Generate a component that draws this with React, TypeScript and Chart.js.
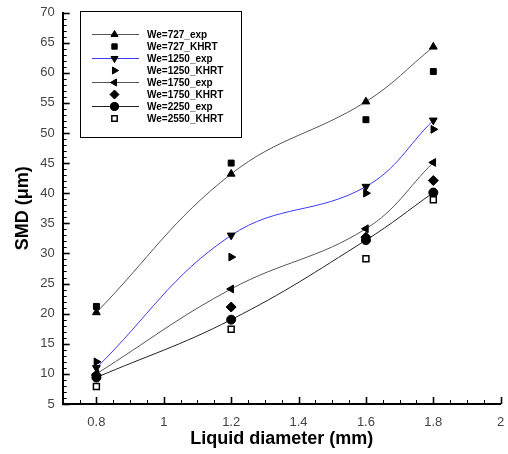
import React, { useEffect, useRef } from 'react';
import { Chart, registerables } from 'chart.js';

Chart.register(...registerables);

// ---- data ----
const DIAMETERS = [0.8, 1.2, 1.6, 1.8];
const WE727_EXP = [20.2, 43.2, 55.2, 64.3];
const WE727_KHRT = [21.2, 45, 52.2, 60.2];
const WE1250_EXP = [11, 33, 41.1, 52.1];
const WE1250_KHRT = [12, 29.4, 40, 50.6];
const WE1750_EXP = [10, 24.1, 34.1, 45.1];
const WE1750_KHRT = [9.8, 21.1, 32.7, 42.1];
const WE2250_EXP = [9.4, 19, 32.2, 40.1];
const WE2550_KHRT = [7.9, 17.4, 29.1, 38.9];

const X_TICKS = [0.8, 1, 1.2, 1.4, 1.6, 1.8, 2];
const Y_TICKS = [5, 10, 15, 20, 25, 30, 35, 40, 45, 50, 55, 60, 65, 70];
const X_MIN = 0.7;
const X_MAX = 2;
const Y_MIN = 5;
const Y_MAX = 70;

const LABELS = [
  'We=727_exp',
  'We=727_KHRT',
  'We=1250_exp',
  'We=1250_KHRT',
  'We=1750_exp',
  'We=1750_KHRT',
  'We=2250_exp',
  'We=2550_KHRT',
];
const X_TITLE = 'Liquid diameter (mm)';
const Y_TITLE = 'SMD (\u03bcm)';

const FONT = '"Liberation Sans", Arial, Helvetica, sans-serif';

type Marker = { style: string; rot: number; r: number; fill: string };

const SERIES: { values: number[]; line: string | null; marker: Marker }[] = [
  { values: WE727_EXP, line: '#555555', marker: { style: 'triangle', rot: 0, r: 4.5, fill: '#000' } },
  { values: WE727_KHRT, line: null, marker: { style: 'rect', rot: 0, r: 4.2, fill: '#000' } },
  { values: WE1250_EXP, line: '#3a3af0', marker: { style: 'triangle', rot: 180, r: 4.5, fill: '#000' } },
  { values: WE1250_KHRT, line: null, marker: { style: 'triangle', rot: 90, r: 4.5, fill: '#000' } },
  { values: WE1750_EXP, line: '#555555', marker: { style: 'triangle', rot: 270, r: 4.5, fill: '#000' } },
  { values: WE1750_KHRT, line: null, marker: { style: 'rectRot', rot: 0, r: 5, fill: '#000' } },
  { values: WE2250_EXP, line: '#222222', marker: { style: 'circle', rot: 0, r: 4.5, fill: '#000' } },
  { values: WE2550_KHRT, line: null, marker: { style: 'rect', rot: 0, r: 4.2, fill: '#fff' } },
];

function drawMarker(ctx: CanvasRenderingContext2D, m: Marker, x: number, y: number) {
  ctx.save();
  ctx.fillStyle = m.fill;
  ctx.strokeStyle = '#000';
  ctx.lineWidth = m.fill === '#fff' ? 1.5 : 1;
  ctx.beginPath();
  const r = m.r;
  if (m.style === 'circle') {
    ctx.arc(x, y, r, 0, Math.PI * 2);
  } else if (m.style === 'rect') {
    const s = r * Math.SQRT1_2;
    ctx.rect(x - s, y - s, 2 * s, 2 * s);
  } else if (m.style === 'rectRot') {
    ctx.moveTo(x, y - r);
    ctx.lineTo(x + r, y);
    ctx.lineTo(x, y + r);
    ctx.lineTo(x - r, y);
    ctx.closePath();
  } else {
    let a = (m.rot * Math.PI) / 180;
    for (let i = 0; i < 3; i++) {
      const px = x + Math.sin(a) * r;
      const py = y - Math.cos(a) * r;
      if (i === 0) ctx.moveTo(px, py);
      else ctx.lineTo(px, py);
      a += (2 * Math.PI) / 3;
    }
    ctx.closePath();
  }
  ctx.fill();
  ctx.stroke();
  ctx.restore();
}

const decorPlugin = {
  id: 'decor',
  afterDraw(chart: any) {
    const ctx: CanvasRenderingContext2D = chart.ctx;
    const xs = chart.scales.x;
    const ys = chart.scales.y;
    const { left, bottom, right, top } = chart.chartArea;
    ctx.save();
    ctx.strokeStyle = '#000';
    // y ticks (inside)
    for (let i = 0; i <= (Y_MAX - Y_MIN); i++) {
      const v = Y_MIN + i;
      const major = Y_TICKS.includes(v);
      const py = Math.round(ys.getPixelForValue(v)) + 0.5;
      ctx.lineWidth = major ? 1.6 : 1;
      ctx.beginPath();
      ctx.moveTo(left, py);
      ctx.lineTo(left + (major ? 7 : 4), py);
      ctx.stroke();
    }
    // x ticks (inside)
    const nx = Math.round((X_MAX - X_MIN) / 0.05);
    for (let i = 0; i <= nx; i++) {
      const v = X_MIN + i * 0.05;
      const major = X_TICKS.some((t) => Math.abs(t - v) < 1e-6);
      const px = Math.round(xs.getPixelForValue(v)) + 0.5;
      ctx.lineWidth = major ? 1.6 : 1;
      ctx.beginPath();
      ctx.moveTo(px, bottom);
      ctx.lineTo(px, bottom - (major ? 7 : 4));
      ctx.stroke();
    }

    // axis titles
    ctx.fillStyle = '#000';
    ctx.font = `bold 18px ${FONT}`;
    ctx.textAlign = 'center';
    ctx.textBaseline = 'middle';
    ctx.fillText(X_TITLE, (left + right) / 2, 439);
    ctx.save();
    ctx.translate(23, (top + bottom) / 2);
    ctx.rotate(-Math.PI / 2);
    ctx.fillText(Y_TITLE, 0, 0);
    ctx.restore();

    // legend
    const bx = 80.5, by = 11.5, bw = 161, bh = 126;
    ctx.fillStyle = '#fff';
    ctx.fillRect(bx, by, bw, bh);
    ctx.lineWidth = 1;
    ctx.strokeStyle = '#000';
    ctx.strokeRect(bx, by, bw, bh);
    ctx.font = `bold 10px ${FONT}`;
    ctx.textAlign = 'left';
    ctx.textBaseline = 'middle';
    SERIES.forEach((s, i) => {
      const y = 34.5 + i * 12;
      if (s.line) {
        ctx.strokeStyle = s.line;
        ctx.lineWidth = 1;
        ctx.beginPath();
        ctx.moveTo(92, y);
        ctx.lineTo(139, y);
        ctx.stroke();
      }
      drawMarker(ctx, { ...s.marker, r: s.marker.r * 0.9 }, 114.5, y);
      ctx.fillStyle = '#000';
      ctx.fillText(LABELS[i], 147, y + 0.5);
    });
    ctx.restore();
  },
};

export default function App() {
  const ref = useRef<HTMLCanvasElement | null>(null);

  useEffect(() => {
    if (!ref.current) return;
    const datasets = SERIES.map((s, i) => ({
      label: LABELS[i],
      data: DIAMETERS.map((d, j) => ({ x: d, y: s.values[j] })),
      showLine: !!s.line,
      borderColor: s.line || '#000',
      borderWidth: 1,
      tension: 0.4,
      fill: false,
      pointStyle: s.marker.style,
      pointRotation: s.marker.rot,
      pointRadius: s.marker.r,
      pointBackgroundColor: s.marker.fill,
      pointBorderColor: '#000',
      pointBorderWidth: s.marker.fill === '#fff' ? 1.5 : 1,
      order: 8 - i,
    }));

    const chart = new Chart(ref.current, {
      type: 'scatter',
      data: { datasets },
      options: {
        animation: false,
        responsive: false,
        devicePixelRatio: 1,
        layout: { padding: { top: 12.5, right: 7.3, left: 0, bottom: 0 } },
        plugins: {
          legend: { display: false },
          tooltip: { enabled: false },
        },
        scales: {
          x: {
            type: 'linear',
            min: X_MIN,
            max: X_MAX,
            afterBuildTicks: (scale: any) => {
              scale.ticks = X_TICKS.map((v) => ({ value: v }));
            },
            afterFit: (scale: any) => {
              scale.height = 50;
              scale.paddingLeft = 0;
              scale.paddingRight = 0;
            },
            grid: { display: false, drawTicks: false },
            border: { display: true, color: '#000', width: 2 },
            ticks: {
              padding: 11,
              color: '#444',
              font: { family: FONT, size: 13 },
              callback: (v: any) => String(Number(v)),
              maxRotation: 0,
              autoSkip: false,
            },
          },
          y: {
            type: 'linear',
            min: Y_MIN,
            max: Y_MAX,
            afterBuildTicks: (scale: any) => {
              scale.ticks = Y_TICKS.map((v) => ({ value: v }));
            },
            afterFit: (scale: any) => {
              scale.width = 62.7;
              scale.paddingTop = 0;
              scale.paddingBottom = 0;
            },
            grid: { display: false, drawTicks: false },
            border: { display: true, color: '#000', width: 2 },
            ticks: {
              padding: 8,
              color: '#444',
              font: { family: FONT, size: 13 },
              callback: (v: any) => String(Number(v)),
              autoSkip: false,
            },
          },
        },
      },
      plugins: [decorPlugin],
    } as any);
    return () => chart.destroy();
  }, []);

  return (
    <div style={{ position: 'fixed', left: 0, top: 0, width: 508, height: 454, background: '#fff' }}>
      <canvas ref={ref} width={508} height={454} style={{ display: 'block', width: 508, height: 454 }} />
    </div>
  );
}
